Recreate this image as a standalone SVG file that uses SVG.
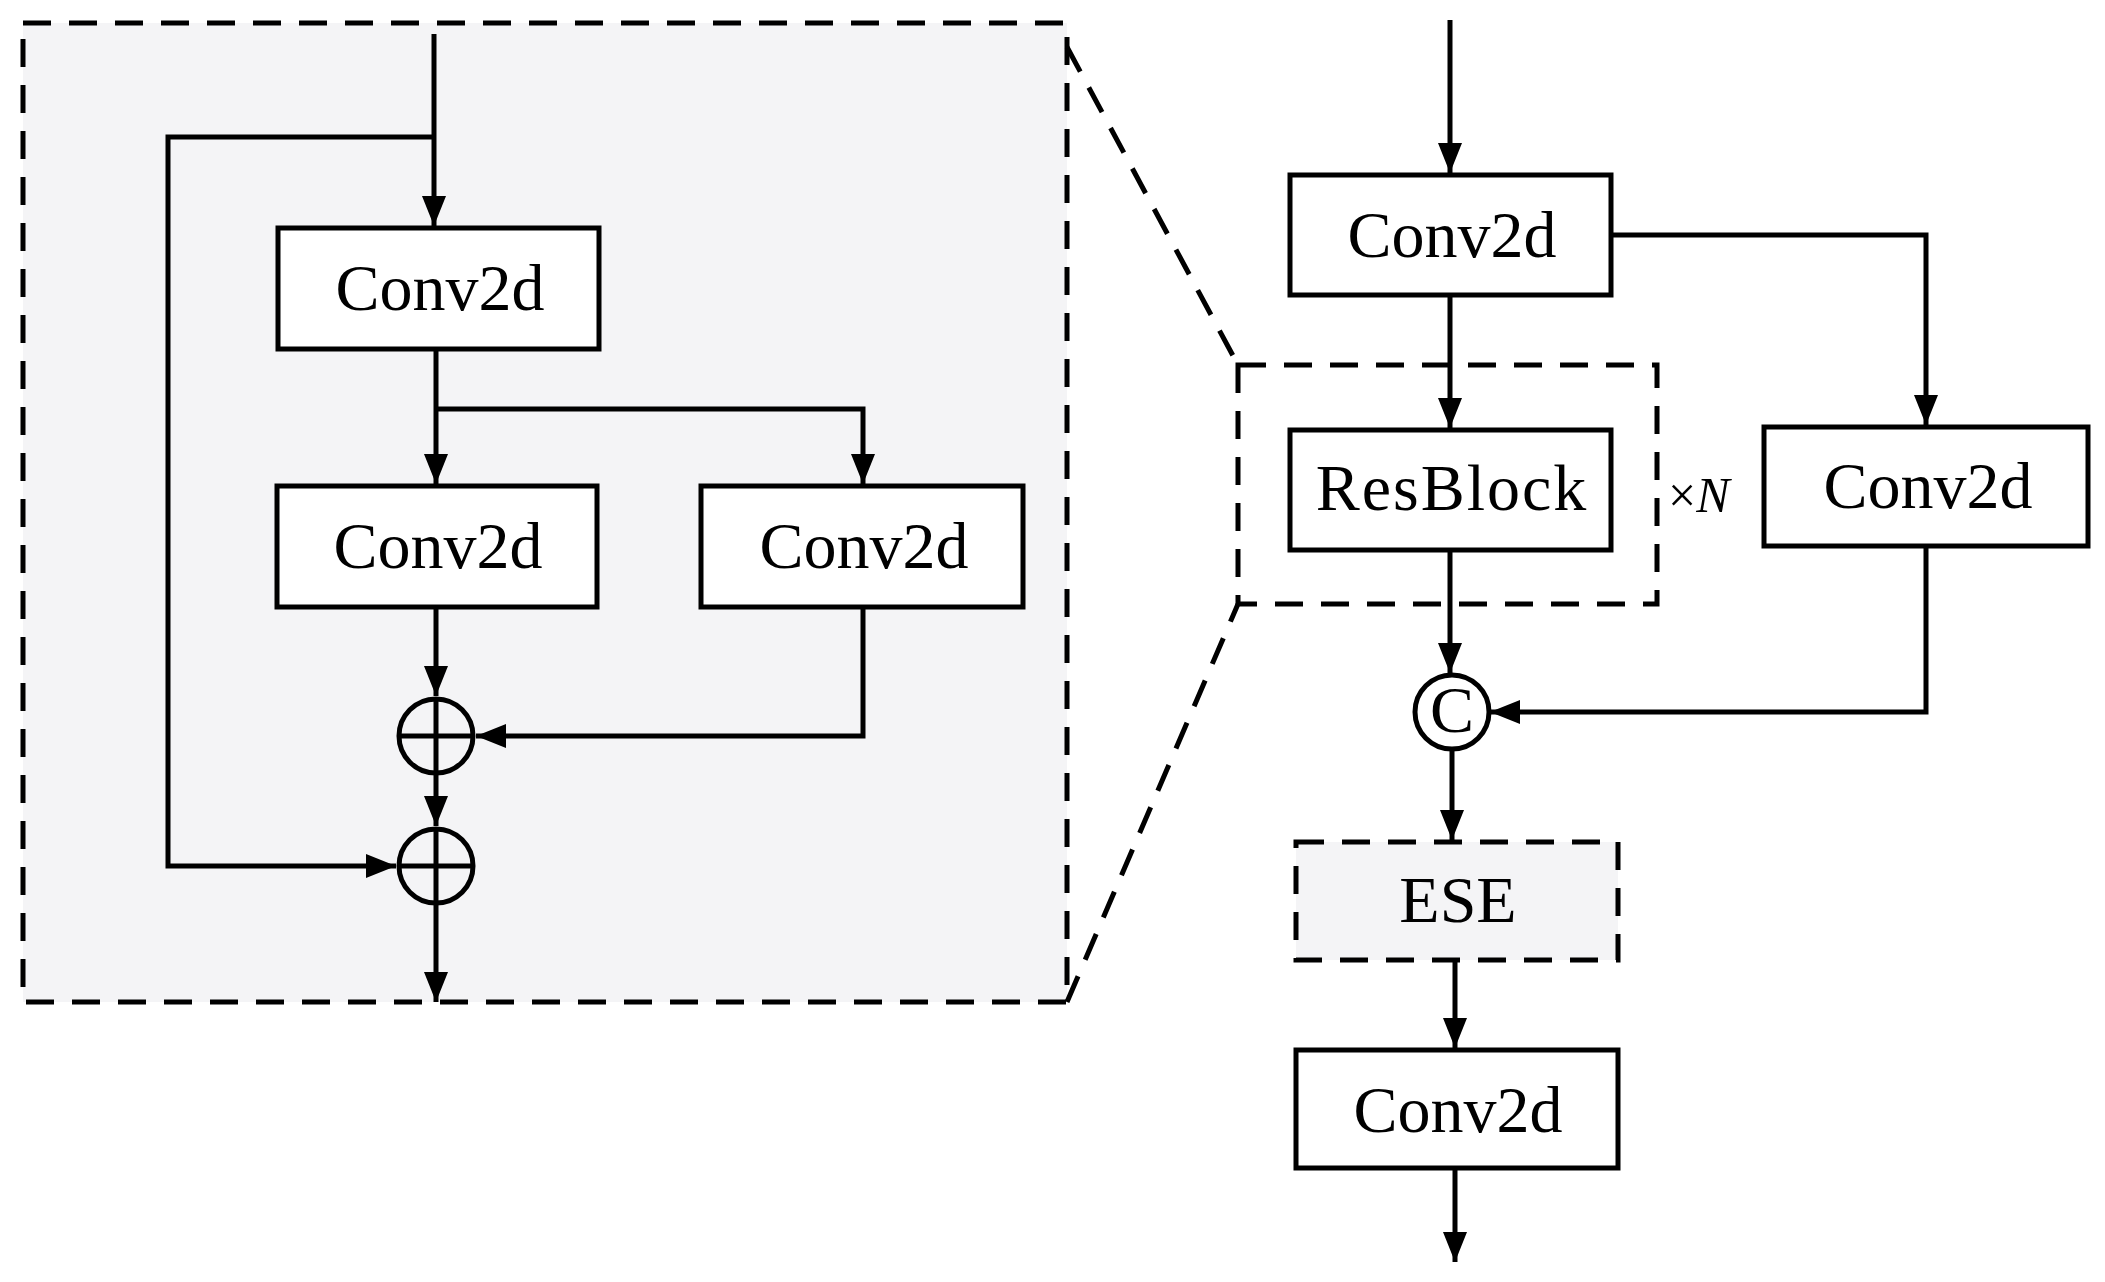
<svg xmlns="http://www.w3.org/2000/svg" width="2105" height="1282" viewBox="0 0 2105 1282">
<style>
.b{fill:#fff;stroke:#000;stroke-width:5}
.d{fill:none;stroke:#000;stroke-width:5;stroke-dasharray:28,18}
.l{fill:none;stroke:#000;stroke-width:5}
.t{font-family:"Liberation Serif",serif;font-size:66px;text-anchor:middle}
</style>
<defs><marker id="a" viewBox="0 0 10 10" refX="10" refY="5" markerWidth="6" markerHeight="6" markerUnits="strokeWidth" orient="auto"><path d="M0,1L10,5L0,9z"/></marker></defs>
<rect x="23" y="23" width="1044" height="979" fill="#f4f4f6" stroke="#000" stroke-width="5" stroke-dasharray="28,18"/>
<g id="connectors">
<path class="l" d="M434,34V226" marker-end="url(#a)"/>
<path class="l" d="M434,137H168V866H396" marker-end="url(#a)"/>
<path class="l" d="M436,349V484" marker-end="url(#a)"/>
<path class="l" d="M436,409H863V484" marker-end="url(#a)"/>
<path class="l" d="M436,607V696" marker-end="url(#a)"/>
<path class="l" d="M863,607V736H476" marker-end="url(#a)"/>
<path class="l" d="M436,774V826" marker-end="url(#a)"/>
<path class="l" d="M436,904V1002" marker-end="url(#a)"/>
<path class="d" d="M1067,47L1238,365"/>
<path class="d" d="M1067,1002L1238,604"/>
<path class="l" d="M1450,20V173" marker-end="url(#a)"/>
<path class="l" d="M1611,235H1926V425" marker-end="url(#a)"/>
<path class="l" d="M1450,295V428" marker-end="url(#a)"/>
<path class="l" d="M1450,550V673" marker-end="url(#a)"/>
<path class="l" d="M1926,546V712H1490" marker-end="url(#a)"/>
<path class="l" d="M1452,750V840" marker-end="url(#a)"/>
<path class="l" d="M1455,960V1048" marker-end="url(#a)"/>
<path class="l" d="M1455,1168V1262" marker-end="url(#a)"/>
</g>
<g id="n1"><rect class="b" x="278" y="228" width="321" height="121"/><text class="t" x="440" y="310">Conv2d</text></g>
<g id="n2"><rect class="b" x="277" y="486" width="320" height="121"/><text class="t" x="438" y="568">Conv2d</text></g>
<g id="n3"><rect class="b" x="701" y="486" width="322" height="121"/><text class="t" x="864" y="568">Conv2d</text></g>
<g id="p1"><circle class="l" cx="436" cy="736" r="37"/><path class="l" d="M399,736H473M436,699V773"/></g>
<g id="p2"><circle class="l" cx="436" cy="866" r="37"/><path class="l" d="M399,866H473M436,829V903"/></g>
<g id="n4"><rect class="b" x="1290" y="175" width="321" height="120"/><text class="t" x="1452" y="257">Conv2d</text></g>
<g id="grp"><path class="d" d="M1238,365H1657V604H1238Z"/><text x="1668" y="512" font-family="Liberation Serif,serif" font-size="50">×<tspan font-style="italic">N</tspan></text></g>
<g id="n5"><rect class="b" x="1290" y="430" width="321" height="120"/><text class="t" x="1452" y="510" font-size="56" letter-spacing="2">ResBlock</text></g>
<g id="n6"><rect class="b" x="1764" y="427" width="324" height="119"/><text class="t" x="1928" y="508">Conv2d</text></g>
<g id="c"><circle class="b" cx="1452" cy="712" r="37"/><text class="t" x="1452" y="732" font-size="56">C</text></g>
<g id="n7"><rect x="1296" y="842" width="322" height="118" fill="#f4f4f6" stroke="#000" stroke-width="5" stroke-dasharray="28,18"/><text class="t" x="1458" y="922">ESE</text></g>
<g id="n8"><rect class="b" x="1296" y="1050" width="322" height="118"/><text class="t" x="1458" y="1132">Conv2d</text></g>
</svg>
